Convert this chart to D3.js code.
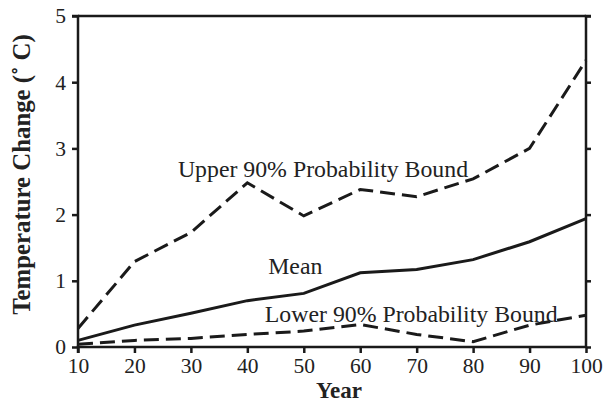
<!DOCTYPE html>
<html>
<head>
<meta charset="utf-8">
<script src="https://cdn.jsdelivr.net/npm/d3@7/dist/d3.min.js"></script>
<style>
  html, body { margin: 0; padding: 0; background: #fff; }
  svg { display: block; }
  text { font-family: "Liberation Serif", "Times New Roman", serif; fill: #222; }
</style>
</head>
<body>
<svg id="chart" width="606" height="402"></svg>
<script>
// Projected temperature change over time
const years = [10, 20, 30, 40, 50, 60, 70, 80, 90, 100];
const upperBound = [0.28, 1.29, 1.73, 2.48, 1.98, 2.38, 2.27, 2.54, 3.0, 4.33];
const meanChange = [0.10, 0.33, 0.51, 0.70, 0.81, 1.12, 1.17, 1.32, 1.59, 1.94];
const lowerBound = [0.04, 0.10, 0.13, 0.19, 0.24, 0.34, 0.19, 0.08, 0.33, 0.48];
const yTicks = [0, 1, 2, 3, 4, 5];
const xTicks = [10, 20, 30, 40, 50, 60, 70, 80, 90, 100];

const svg = d3.select("#chart");
const margin = { left: 78, right: 20, top: 16, bottom: 55 };
const W = 606, H = 402;
const x = d3.scaleLinear().domain([10, 100]).range([margin.left, W - margin.right]);
const y = d3.scaleLinear().domain([0, 5]).range([H - margin.bottom, margin.top]);

const ink = "#1a1a1a";

// frame: top border
svg.append("line")
  .attr("x1", x(10)).attr("x2", x(100))
  .attr("y1", y(5)).attr("y2", y(5))
  .attr("stroke", ink).attr("stroke-width", 2.5);

// left axis
const gL = svg.append("g").attr("transform", `translate(${x(10)},0)`)
  .call(d3.axisLeft(y).tickValues(yTicks).tickFormat(d3.format("d")).tickSize(6).tickPadding(6));
// right axis, ticks only
const gR = svg.append("g").attr("transform", `translate(${x(100)},0)`)
  .call(d3.axisRight(y).tickValues(yTicks).tickFormat("").tickSize(5));
// bottom axis
const gB = svg.append("g").attr("transform", `translate(0,${y(0)})`)
  .call(d3.axisBottom(x).tickValues(xTicks).tickFormat(d3.format("d")).tickSize(6).tickPadding(5));

[gL, gR, gB].forEach(g => {
  g.attr("font-family", null).attr("font-size", null);
  g.select(".domain").attr("stroke", ink).attr("stroke-width", 2.5);
  g.selectAll(".tick line").attr("stroke", ink).attr("stroke-width", 2.5);
  g.selectAll(".tick text").attr("font-size", 21.5).attr("fill", "#222");
});
gL.select(".domain").attr("d", `M-6,${y(5)}H0V${y(0)}`);
gR.select(".domain").attr("d", `M5,${y(5)}H0V${y(0)}`);
gB.select(".domain").attr("d", `M${x(10)},6V0H${x(100)}`);

// series lines
const line = vals => d3.line().x((d, i) => x(years[i])).y(d => y(d))(vals);
const series = [
  { vals: upperBound, dash: "15,7" },
  { vals: meanChange, dash: null },
  { vals: lowerBound, dash: "15,7" }
];
series.forEach(s => {
  svg.append("path")
    .attr("d", line(s.vals))
    .attr("fill", "none")
    .attr("stroke", ink)
    .attr("stroke-width", 3)
    .attr("stroke-linejoin", "miter")
    .attr("stroke-dasharray", s.dash);
});

// series labels
const labels = [
  { text: "Upper 90% Probability Bound", xv: 27.7, yv: 2.57 },
  { text: "Mean", xv: 43.7, yv: 1.11 },
  { text: "Lower 90% Probability Bound", xv: 43.1, yv: 0.378 }
];
labels.forEach(l => {
  svg.append("text")
    .attr("x", x(l.xv)).attr("y", y(l.yv))
    .attr("font-size", 23.8)
    .text(l.text);
});

// axis titles
svg.append("text")
  .attr("x", 339).attr("y", 398)
  .attr("text-anchor", "middle")
  .attr("font-size", 23).attr("font-weight", "bold")
  .text("Year");

svg.append("text")
  .attr("transform", "translate(30,174.5) rotate(-90)")
  .attr("text-anchor", "middle")
  .attr("font-size", 24.8).attr("font-weight", "bold")
  .text("Temperature Change (˚ C)");
</script>
</body>
</html>
